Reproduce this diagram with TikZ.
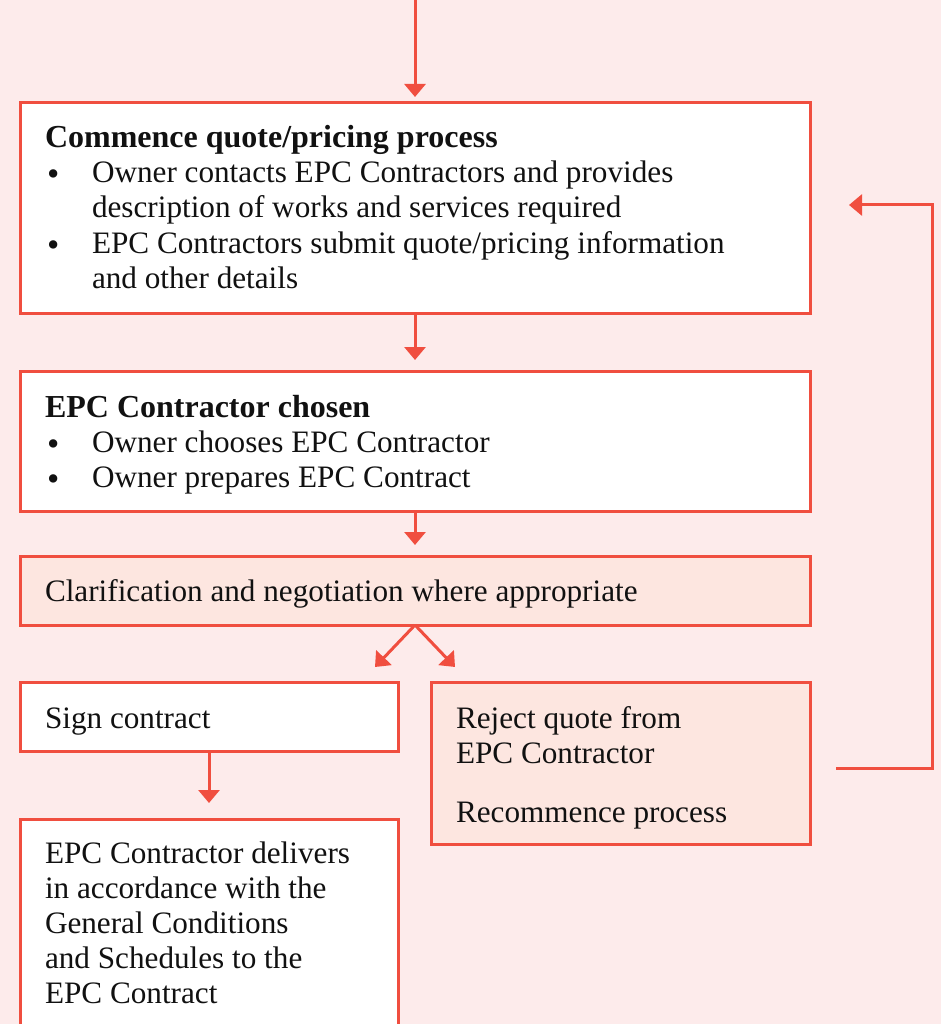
\documentclass[tikz,border=0pt]{standalone}
\usepackage{fontspec}
\setmainfont{Liberation Serif}
\usetikzlibrary{arrows.meta}
\definecolor{bgpink}{HTML}{FDEBEB}
\definecolor{peach}{HTML}{FDE6E0}
\definecolor{redline}{HTML}{F04E3F}
\definecolor{ink}{HTML}{111111}
\begin{document}
\begin{tikzpicture}[x=1pt,y=-1pt,
  box/.style={draw=redline, line width=3pt, fill=white, rectangle, inner sep=0pt, outer sep=0pt, anchor=north west},
  pbox/.style={box, fill=peach},
  arr/.style={draw=redline, line width=3pt, -{Triangle[width=21pt,length=13pt]}},
  txt/.style={font=\fontsize{31.2}{35}\selectfont, text=ink, inner sep=0pt, outer sep=0pt, anchor=base west},
  ttl/.style={txt, font=\fontsize{32}{35}\selectfont\bfseries},
  bul/.style={txt, font=\fontsize{35}{35}\selectfont}]
\useasboundingbox[fill=bgpink] (0,0) rectangle (941,1024);
% boxes
\node[box, minimum width=790pt, minimum height=210pt] (b1) at (20,103) {};
\node[box, minimum width=790pt, minimum height=140pt] (b2) at (20,371) {};
\node[pbox, minimum width=790pt, minimum height=69pt] (b3) at (20,556) {};
\node[box, minimum width=378pt, minimum height=69pt] (sign) at (20,682) {};
\node[box, minimum width=378pt, minimum height=230pt] (deliver) at (20,819) {};
\node[pbox, minimum width=379pt, minimum height=162pt] (reject) at (431,682) {};
% text box 1
\node[ttl] (t1) at (45,148) {Commence quote/pricing process};
\node[bul] (u1) at (47,186) {•};
\node[txt] (t2) at (92,183) {Owner contacts EPC Contractors and provides};
\node[txt] (t3) at (92,218) {description of works and services required};
\node[bul] (u2) at (47,256) {•};
\node[txt] (t4) at (92,253) {EPC Contractors submit quote/pricing information};
\node[txt] (t5) at (92,288) {and other details};
% text box 2
\node[ttl] (t6) at (45,417) {EPC Contractor chosen};
\node[bul] (u3) at (47,455) {•};
\node[txt] (t7) at (92,452) {Owner chooses EPC Contractor};
\node[bul] (u4) at (47,490) {•};
\node[txt] (t8) at (92,487) {Owner prepares EPC Contract};
% text box 3
\node[txt] (t9) at (45,601) {Clarification and negotiation where appropriate};
% sign
\node[txt] (t10) at (45,728) {Sign contract};
% reject
\node[txt] (t11) at (456,728) {Reject quote from};
\node[txt] (t12) at (456,763) {EPC Contractor};
\node[txt] (t13) at (456,822) {Recommence process};
% deliver
\node[txt] (t14) at (45,863) {EPC Contractor delivers};
\node[txt] (t15) at (45,898) {in accordance with the};
\node[txt] (t16) at (45,933) {General Conditions};
\node[txt] (t17) at (45,968) {and Schedules to the};
\node[txt] (t18) at (45,1003) {EPC Contract};
% connectors
\coordinate (top) at (415,0);
\coordinate (dl) at (375,667);
\coordinate (dr) at (455,667);
\coordinate (r1) at (836,768);
\coordinate (r3) at (849,205);
\draw[arr, shorten >=6pt] (top) -- (b1.north);
\draw[arr, shorten >=11pt] (b1.south) -- (b2.north);
\draw[arr, shorten >=11pt] (b2.south) -- (b3.north);
\draw[arr] (b3.south) -- (dl);
\draw[arr] (b3.south) -- (dr);
\draw[arr, shorten >=16pt] (sign.south) -- (deliver.north);
\draw[arr] (r1) -- ++(96,0) |- (r3);
\end{tikzpicture}
\end{document}
